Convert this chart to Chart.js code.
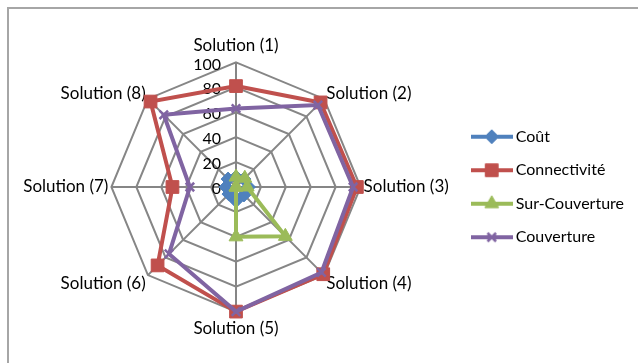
<!DOCTYPE html>
<html>
<head>
<meta charset="utf-8">
<script src="https://cdn.jsdelivr.net/npm/chart.js@4/dist/chart.umd.min.js"></script>
<style>
  html, body { margin: 0; padding: 0; background: #fff; overflow: hidden; }
  #frame { position: absolute; left: 7px; top: 7px; width: 700px; height: 420px; border: 2px solid #a6a6a6; }
  #chart { position: absolute; left: 0; top: 0; }
</style>
</head>
<body>
<div id="frame"></div>
<canvas id="chart" width="638" height="363"></canvas>
<script>
'use strict';

// ******* DATA *******

let categories = ['Solution (1)', 'Solution (2)', 'Solution (3)', 'Solution (4)',
  'Solution (5)', 'Solution (6)', 'Solution (7)', 'Solution (8)'];

let cout = [8, 9, 10, 9, 11, 8, 8, 9];
let connectivite = [81, 96, 97, 99, 100, 89, 51, 97];
let surCouverture = [8, 10, 9, 56, 40, 0, 0, 0];
let couverture = [63, 93, 94, 97, 100, 76, 37, 82];

let tickValues = [0, 20, 40, 60, 80, 100];


// ******* HELPERS *******

// little line + marker picture used as legend symbol
function legendIcon(color, style, radius) {
  let c = document.createElement('canvas');
  c.width = 42;
  c.height = 20;
  let g = c.getContext('2d');
  g.strokeStyle = color;
  g.lineWidth = 4;
  g.beginPath();
  g.moveTo(0, 10);
  g.lineTo(42, 10);
  g.stroke();
  g.fillStyle = color;
  g.lineWidth = style === 'crossRot' ? 2.5 : 1;
  Chart.helpers.drawPoint(g, {pointStyle: style, radius: radius, borderWidth: g.lineWidth}, 21, 10);
  return c;
}

function series(label, data, color, style, radius, order) {
  return {
    label: label,
    data: data,
    borderColor: color,
    backgroundColor: color,
    borderWidth: 4,
    fill: false,
    pointStyle: style,
    pointRadius: radius,
    pointHoverRadius: radius,
    pointBackgroundColor: color,
    pointBorderColor: color,
    pointBorderWidth: style === 'crossRot' ? 2.5 : 1,
    order: order,
    icon: legendIcon(color, style, radius)
  };
}

// tick numbers sit left of the vertical axis, like in Excel
let tickLabelPlugin = {
  id: 'tickLabels',
  beforeDatasetsDraw(chart) {
    let scale = chart.scales.r;
    let ctx = chart.ctx;
    ctx.save();
    ctx.font = '16px Lato';
    ctx.fillStyle = '#000';
    ctx.textAlign = 'right';
    ctx.textBaseline = 'middle';
    scale.ticks.forEach((t) => {
      let y = scale.yCenter - scale.getDistanceFromCenterForValue(t.value);
      ctx.fillText(String(t.value), scale.xCenter - 15, y + 2);
    });
    ctx.restore();
  }
};


// ******* CHART *******

Chart.defaults.font.family = 'Lato';
Chart.defaults.font.size = 16;
Chart.defaults.color = '#000';

let ctx = document.getElementById('chart').getContext('2d');
let myChart = new Chart(ctx, {
  type: 'radar',
  data: {
    labels: categories,
    datasets: [
      series('Coût', cout, '#4F81BD', 'rectRot', 7, 3),
      series('Connectivité', connectivite, '#C0504D', 'rect', 9, 2),
      series('Sur-Couverture', surCouverture, '#9BBB59', 'triangle', 8, 1),
      series('Couverture', couverture, '#8064A2', 'crossRot', 6, 0)
    ]
  },
  options: {
    responsive: false,
    animation: false,
    devicePixelRatio: 1,
    layout: {
      padding: {left: 15, right: 4, top: 35, bottom: 24}
    },
    plugins: {
      tooltip: {enabled: false},
      legend: {
        position: 'right',
        labels: {
          usePointStyle: true,
          pointStyleWidth: 32,
          padding: 17.5,
          color: '#000',
          font: {size: 16},
          sort: (a, b) => a.datasetIndex - b.datasetIndex,
          generateLabels(chart) {
            let items = Chart.defaults.plugins.legend.labels.generateLabels(chart);
            items.forEach((it) => {
              it.pointStyle = chart.data.datasets[it.datasetIndex].icon;
            });
            return items;
          }
        }
      }
    },
    scales: {
      r: {
        min: 0,
        max: 100,
        afterBuildTicks(scale) {
          scale.ticks = tickValues.map((v) => ({value: v}));
        },
        afterFit(scale) {
          // Excel centres the diagonal labels on their spoke
          let items = scale._pointLabelItems || [];
          let shift = [0, 7, 0, -4, 0, -4, 0, 7];
          items.forEach((it, i) => {
            it.y += shift[i];
            it.top += shift[i];
            it.bottom += shift[i];
          });
        },
        ticks: {display: false},
        grid: {color: '#868686', lineWidth: 2},
        angleLines: {color: '#868686', lineWidth: 2},
        pointLabels: {
          color: '#000',
          font: {size: 17},
          padding: (c) => (c.index % 4 === 0 ? 7 : 3)
        }
      }
    }
  },
  plugins: [tickLabelPlugin]
});
</script>
</body>
</html>
